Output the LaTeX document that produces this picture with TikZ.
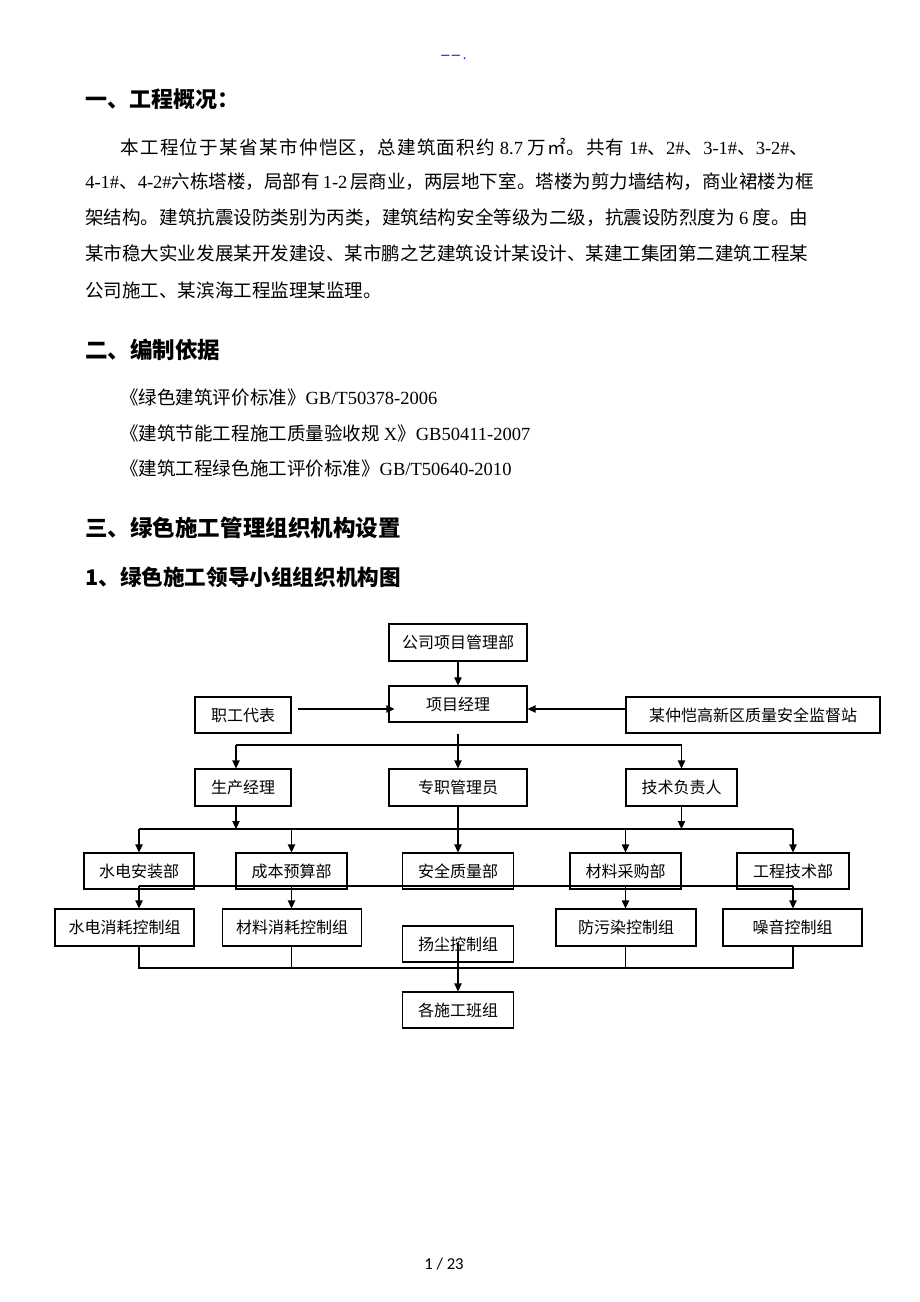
\documentclass[tikz,border=0pt]{standalone}
\usepackage{fontspec}
\setmainfont{Noto Sans CJK SC}
\newfontfamily\lat{Liberation Serif}
\newfontfamily\pnum{Carlito}
\newfontfamily\lsans{Liberation Sans}
\usetikzlibrary{arrows.meta}
\XeTeXlinebreaklocale "zh"
\XeTeXlinebreakskip=0pt plus 4pt minus 0.5pt
\newlength\px \setlength\px{0.75pt}
\newcommand\bodyfont{\fontsize{13.9pt}{16pt}\selectfont}
\newcommand\headfont{\fontsize{16.9pt}{19pt}\selectfont\bfseries}
\newcommand\boxfont{\fontsize{12pt}{14pt}\selectfont}
\newcommand\lt[1]{{\lat #1}}
\newcommand\jline[2]{\parbox{#1}{\bodyfont\tolerance=10000\parfillskip=0pt\noindent #2}}
\begin{document}
\begin{tikzpicture}[x=0.75pt,y=-0.75pt,
  box/.style={draw, line width=0.8pt, inner sep=0pt, font=\boxfont},
  txt/.style={anchor=west, inner sep=0pt},
  ln/.style={line width=0.8pt},
  arr/.style={line width=0.8pt, -{Triangle[length=6pt,width=5.5pt]}}]
\fill[white] (0,0) rectangle (920,1302);
\useasboundingbox (0,0) rectangle (920,1302);

% header mark and page number
\node[inner sep=0pt, text=blue] (hdr) at (454,57) {\lsans\fontsize{11pt}{11pt}\selectfont –\,–\,.};
\node[inner sep=0pt] (pg) at (444,1264) {\pnum\fontsize{12.5pt}{13pt}\selectfont 1 / 23};

% section 1
\node[txt] (h1) at (85,99) {\fontsize{16.5pt}{19pt}\selectfont\bfseries 一、工程概况：};
\node[txt] (p1) at (120,147) {\jline{688\px}{本工程位于某省某市仲恺区，总建筑面积约 \lt{8.7} 万㎡。共有 \lt{1\#}、\lt{2\#}、\lt{3-1\#}、\lt{3-2\#}、}};
\node[txt] (p2) at (85,182) {\bodyfont\hbox to 723\px{\lt{4-1\#}、\lt{4-2\#}六栋塔楼，局部有 \lt{1-2} 层商业，两层地下室。塔楼为剪力墙结构，商业裙楼为框}};
\node[txt] (p3) at (85,218) {\jline{723\px}{架结构。建筑抗震设防类别为丙类，建筑结构安全等级为二级，抗震设防烈度为 \lt{6} 度。由}};
\node[txt] (p4) at (85,253) {\bodyfont\hbox to 723\px{某市稳大实业发展某开发建设、某市鹏之艺建筑设计某设计、某建工集团第二建筑工程某}};
\node[txt] (p5) at (85,290) {\bodyfont 公司施工、某滨海工程监理某监理。};

% section 2
\node[txt] (h2) at (85,350) {\headfont 二、编制依据};
\node[txt] (r1) at (120,397) {\bodyfont 《绿色建筑评价标准》\lt{GB/T50378-2006}};
\node[txt] (r2) at (120,433) {\bodyfont 《建筑节能工程施工质量验收规 \lt{X}》\lt{GB50411-2007}};
\node[txt] (r3) at (120,468) {\bodyfont 《建筑工程绿色施工评价标准》\lt{GB/T50640-2010}};

% section 3
\node[txt] (h3) at (85,528) {\headfont 三、绿色施工管理组织机构设置};
\node[txt] (h4) at (85,577) {\fontsize{16.2pt}{19pt}\selectfont\bfseries 1、绿色施工领导小组组织机构图};

% org chart boxes
\node[box, minimum width=138\px, minimum height=37\px] (gs) at (458,642.5) {公司项目管理部};
\node[box, minimum width=138\px, minimum height=36\px] (pm) at (458,704) {项目经理};
\node[box, minimum width=96\px,  minimum height=36\px] (zg) at (243,715) {职工代表};
\node[box, minimum width=254\px, minimum height=36\px] (jd) at (753,715) {某仲恺高新区质量安全监督站};
\node[box, minimum width=96\px,  minimum height=37\px] (sc) at (243,787.5) {生产经理};
\node[box, minimum width=138\px, minimum height=37\px] (zz) at (458,787.5) {专职管理员};
\node[box, minimum width=111\px, minimum height=37\px] (js) at (681.5,787.5) {技术负责人};
\node[box, minimum width=110\px, minimum height=36\px] (sd) at (139,871) {水电安装部};
\node[box, minimum width=111\px, minimum height=36\px] (cb) at (291.5,871) {成本预算部};
\node[box, minimum width=111\px, minimum height=36\px] (aq) at (458,871) {安全质量部};
\node[box, minimum width=111\px, minimum height=36\px] (cl) at (625.5,871) {材料采购部};
\node[box, minimum width=112\px, minimum height=36\px] (gc) at (793,871) {工程技术部};
\node[box, minimum width=139\px, minimum height=37\px] (sx) at (124.5,927.5) {水电消耗控制组};
\node[box, minimum width=139\px, minimum height=37\px] (cx) at (292,927.5) {材料消耗控制组};
\node[box, minimum width=140\px, minimum height=37\px] (fw) at (626,927.5) {防污染控制组};
\node[box, minimum width=139\px, minimum height=37\px] (zy) at (792.5,927.5) {噪音控制组};
\node[box, minimum width=111\px, minimum height=36\px] (yc) at (458,944) {扬尘控制组};
\node[box, minimum width=111\px, minimum height=36\px] (gb) at (458,1010) {各施工班组};

% bus coordinates
\coordinate (b1L) at (236,745);
\coordinate (b1R) at (681.5,745);
\coordinate (b2L) at (139,829);
\coordinate (b2R) at (793,829);
\coordinate (b3L) at (139,886);
\coordinate (b3R) at (793,886);
\coordinate (b4L) at (139,968);
\coordinate (b4R) at (793,968);

% top connectors
\draw[arr] (gs.south) -- (pm.north);
\draw[arr] ([shift={(6,-6)}]zg.east) -- ([shift={(6,-6)}]zg.east -| pm.west);
\draw[arr] ([shift={(0,-6)}]jd.west) -- ([shift={(0,-6)}]jd.west -| pm.east);
\draw[arr] ([shift={(0,11)}]pm.south) -- (zz.north);
\draw[ln] (b1L) -- (b1R);
\draw[arr] (b1L) -- (b1L |- sc.north);
\draw[arr] (b1R) -- (js.north);

% second level
\draw[arr] (b1L |- sc.south) -- (b1L |- b2L);
\draw[arr] (js.south) -- (js.south |- b2L);
\draw[arr] (zz.south) -- (aq.north);
\draw[ln] (b2L) -- (b2R);
\draw[arr] (b2L) -- (sd.north);
\draw[arr] (b2L -| cb) -- (cb.north);
\draw[arr] (b2L -| cl) -- (cl.north);
\draw[arr] (b2R) -- (gc.north);

% third level
\draw[ln] (b3L) -- (b3R);
\draw[arr] (b3L) -- (b3L |- sx.north);
\draw[arr] (b3L -| cb) -- (cb |- cx.north);
\draw[arr] (b3L -| cl) -- (cl |- fw.north);
\draw[arr] (b3R) -- (b3R |- zy.north);

% bottom bus
\draw[ln] (b3L |- sx.south) -- (b4L) -- (b4R) -- (b3R |- zy.south);
\draw[ln] (cb |- cx.south) -- (cb |- b4L);
\draw[ln] (cl |- fw.south) -- (cl |- b4L);
\draw[arr] ([shift={(0,-1)}]yc.center) -- (gb.north);
\end{tikzpicture}
\end{document}
